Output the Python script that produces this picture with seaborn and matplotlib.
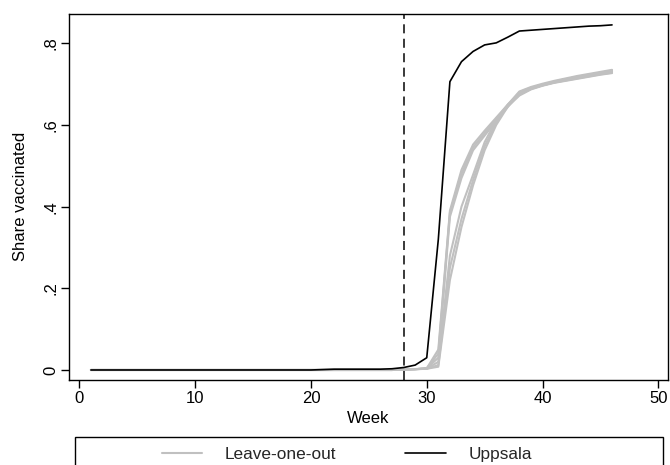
import matplotlib
matplotlib.use("Agg")
import matplotlib.pyplot as plt
import seaborn as sns
import pandas as pd
from matplotlib.lines import Line2D
from matplotlib.patches import Rectangle

# ---------------- data ----------------
weeks = list(range(1, 47))
uppsala = [0.0] * 20 + [0.001, 0.002, 0.002, 0.002, 0.002, 0.002, 0.003, 0.006,
                        0.012, 0.030, 0.320, 0.706, 0.755, 0.780, 0.796, 0.801,
                        0.815, 0.830, 0.832, 0.834, 0.836, 0.838, 0.840, 0.842,
                        0.843, 0.845]

# leave-one-out series: weeks 1-27 are zero, values below are weeks 28-46
loo_a = [0.0] * 27 + [0.001, 0.002, 0.004, 0.050, 0.390, 0.490, 0.552, 0.586, 0.618, 0.650,
                      0.682, 0.693, 0.701, 0.708, 0.714, 0.720, 0.725, 0.730, 0.735]
loo_b = [0.0] * 27 + [0.001, 0.002, 0.004, 0.040, 0.385, 0.480, 0.545, 0.580, 0.614, 0.647,
                      0.680, 0.691, 0.699, 0.706, 0.712, 0.718, 0.723, 0.728, 0.733]
loo_c = [0.0] * 27 + [0.001, 0.002, 0.004, 0.030, 0.375, 0.470, 0.538, 0.574, 0.610, 0.644,
                      0.678, 0.689, 0.697, 0.704, 0.710, 0.716, 0.721, 0.726, 0.731]
loo_d = [0.0] * 27 + [0.001, 0.002, 0.003, 0.020, 0.280, 0.400, 0.478, 0.558, 0.612, 0.650,
                      0.676, 0.690, 0.698, 0.705, 0.711, 0.716, 0.721, 0.726, 0.730]
loo_e = [0.0] * 27 + [0.001, 0.002, 0.003, 0.012, 0.250, 0.370, 0.465, 0.548, 0.606, 0.648,
                      0.674, 0.688, 0.697, 0.704, 0.709, 0.714, 0.719, 0.724, 0.728]
loo_f = [0.0] * 27 + [0.001, 0.002, 0.003, 0.008, 0.220, 0.350, 0.452, 0.538, 0.600, 0.645,
                      0.672, 0.687, 0.696, 0.703, 0.708, 0.713, 0.718, 0.723, 0.727]
loo_series = [loo_a, loo_b, loo_c, loo_d, loo_e, loo_f]

treat_week = 28
xticks = [0, 10, 20, 30, 40, 50]
yticks = [0, 0.2, 0.4, 0.6, 0.8]
yticklabels = ["0", ".2", ".4", ".6", ".8"]
legend_labels = ["Leave-one-out", "Uppsala"]

# ---------------- style ----------------
sns.set_theme(style="ticks")
plt.rcParams["font.family"] = ["Liberation Sans", "DejaVu Sans"]
plt.rcParams["axes.linewidth"] = 1.0

FS = 12
LFS = 12.4
gray = "#c0c0c0"

rows = []
for i, s in enumerate(loo_series):
    for w, v in zip(weeks, s):
        rows.append({"week": w, "share": v, "unit": i})
loo_df = pd.DataFrame(rows)
upp_df = pd.DataFrame({"week": weeks, "share": uppsala})

fig = plt.figure(figsize=(6.7, 4.65), dpi=100)
ax = fig.add_axes([68.7 / 670, 1 - 379.5 / 465, (668.3 - 68.7) / 670, (379.5 - 14) / 465])

sns.lineplot(data=loo_df, x="week", y="share", units="unit", estimator=None,
             color=gray, linewidth=1.5, ax=ax, legend=False)
sns.lineplot(data=upp_df, x="week", y="share", color="black", linewidth=1.2,
             ax=ax, legend=False)
ax.axvline(treat_week, color="#2a2a2a", linestyle=(0, (5, 3)), linewidth=1.3)

ax.set_xlim(-0.92, 50.86)
ax.set_ylim(-0.0233, 0.8717)
ax.set_xticks(xticks)
ax.set_xticklabels([str(t) for t in xticks])
ax.set_yticks(yticks)
ax.set_yticklabels(yticklabels, rotation=90, va="center")
ax.tick_params(axis="both", direction="out", length=6, width=1, color="black",
               labelsize=FS, labelcolor="black")
ax.tick_params(axis="x", pad=2)
ax.tick_params(axis="y", pad=1.5)
for sp in ax.spines.values():
    sp.set_visible(True)
    sp.set_color("black")
    sp.set_linewidth(1.0)

ax.set_xlabel("Week", fontsize=FS, color="black", labelpad=4)
ax.set_ylabel("Share vaccinated", fontsize=FS, color="black", labelpad=11)

# legend
handles = [Line2D([], [], color=gray, linewidth=1.5),
           Line2D([], [], color="black", linewidth=1.2)]
fig.legend(handles, legend_labels, loc="center left",
           bbox_to_anchor=(161.7 / 670, 1 - 454 / 465), frameon=False, ncol=2,
           fontsize=LFS, handlelength=2.33, handletextpad=1.35, columnspacing=4.0,
           borderpad=0, borderaxespad=0)
fig.add_artist(Rectangle((75 / 670, -0.05), (662.7 - 75) / 670, (1 - 437.3 / 465) + 0.05,
                         transform=fig.transFigure, fill=False, edgecolor="black",
                         linewidth=1.0))

fig.savefig("out.png", dpi=100, facecolor="white")
